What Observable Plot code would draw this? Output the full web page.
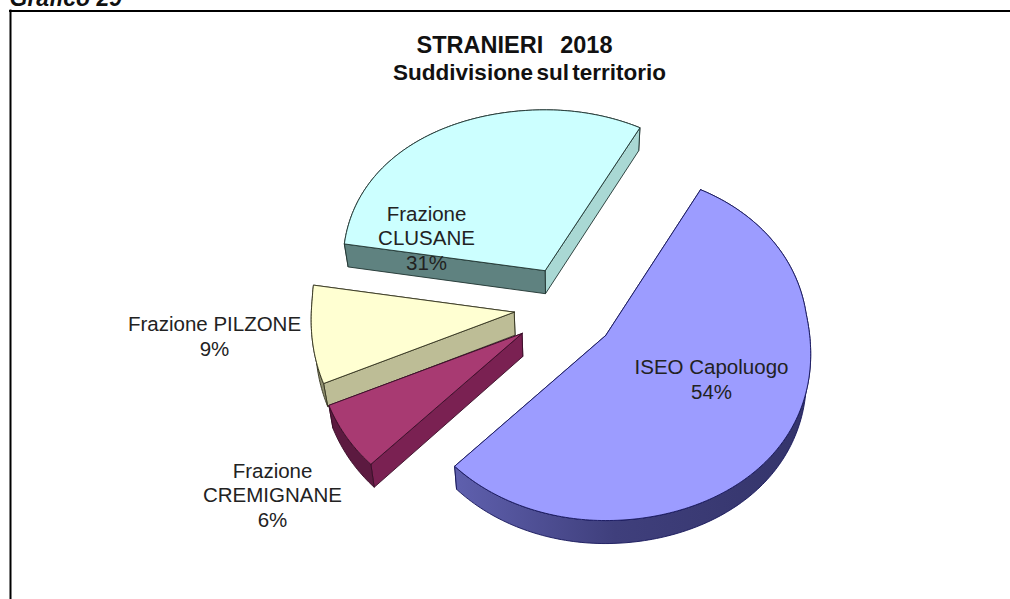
<!DOCTYPE html>
<html>
<head>
<meta charset="utf-8">
<script src="https://cdn.jsdelivr.net/npm/d3@7"></script>
<script src="https://cdn.jsdelivr.net/npm/@observablehq/plot@0.6"></script>
<style>
html,body{margin:0;padding:0;background:#fff;overflow:hidden}
svg{display:block;background:#fff}
.t1{word-spacing:2px}
.t2{word-spacing:-3px}
</style>
</head>
<body>
<div id="chart"></div>
<script>
// ---- data ----
const categories = ["ISEO Capoluogo", "Frazione CREMIGNANE", "Frazione PILZONE", "Frazione CLUSANE"];
const shares = [54, 6, 9, 31];
const labels = ["ISEO Capoluogo\n54%", "Frazione\nCREMIGNANE\n6%", "Frazione PILZONE\n9%", "Frazione\nCLUSANE\n31%"];
const titleLine1 = "STRANIERI  2018";
const titleLine2 = "Suddivisione sul territorio";
const pageNote = "Grafico 29";

// ---- styling / layout ----
const faceColors  = ["#9c9cff", "#a83a72", "#ffffd2", "#ccffff"];
const startColors = ["#5a5ba6", "#7a2152", "#bdbd96", "#5f8280"];
const endColors   = ["#5a5ba6", "#7a2152", "#8f8f70", "#a9d8d4"];
const wallColors  = ["url(#wallPurple)", "#5c1a40", "#8f8f70", "#5f8280"];
const lineColors  = ["#16165a", "#3a0f28", "#33331f", "#1f3330"];
const wallFirst = [false, false, false, true];
const nudges = [[0, 0], [-6, -3], [-5, -5], [1, 1]];
const labelAt = [[711, 378], [272, 494], [214, 335], [426, 237]];
const firstAngle = 28, depth = 23;
const W = 1010, H = 599;
const center = {x: 566, y: 309}, explodeX = 48, explodeY = 45, explodeV = 0.235;
const radiusX = 202, radiusY = 172.5, skew = 8, persX = 0.13, persY = 0.06, wallShrink = 0.983;

const rad = d => d * Math.PI / 180;
const arcs = [];
{
  let a = firstAngle;
  const total = d3.sum(shares);
  shares.forEach((s, i) => {
    const b = a + s / total * 360;
    arcs.push({i, a, b});
    a = b;
  });
}

function makeSlice({i, a, b}) {
  const mid = rad((a + b) / 2), u = Math.sin(mid), v = Math.cos(mid);
  const ax = center.x + explodeX * u + nudges[i][0];
  const ay = center.y - explodeY * v + nudges[i][1];
  const vApex = explodeV * v;
  const rim = deg => {
    const t = rad(deg), c = Math.cos(t), sn = Math.sin(t);
    const vv = c + vApex;
    const sx = vv < 0 ? 1 + persX * Math.pow(-vv, 1.3) : 1;
    const sy = 1 / (1 + persY * vv);
    const sk = sn < 0 ? -skew * sn * sn : 0;
    return {x: ax + radiusX * sn * sx, y: ay - radiusY * c * sy + sk};
  };
  const apex = {x: ax, y: ay};
  const down = p => ({x: center.x + (p.x - center.x) * wallShrink, y: p.y + depth});
  const rimPts = d3.range(a, b, 1).concat([b]).map(rim);
  const base = {stroke: lineColors[i]};
  const quad = (p, q) => [p, q, down(q), down(p), p];
  const wall = {...base, fill: wallColors[i], pts: [...rimPts, ...rimPts.slice().reverse().map(down), rimPts[0]]};
  const cuts = [
    {...base, fill: endColors[i], pts: quad(apex, rim(b))},
    {...base, fill: startColors[i], pts: quad(apex, rim(a))}
  ];
  const face = {...base, fill: faceColors[i], pts: [apex, ...rimPts, apex]};
  return wallFirst[i] ? [wall, ...cuts, face] : [...cuts, wall, face];
}

// back to front
const order = [3, 2, 1, 0];
const polys = order.flatMap(i => makeSlice(arcs[i]));

const defs = () => {
  const d = d3.create("svg:defs");
  const g = d.append("linearGradient").attr("id", "wallPurple").attr("x1", 0).attr("x2", 1).attr("y1", 0).attr("y2", 0);
  [[0, "#5f60ae"], [0.45, "#3f3f7c"], [1, "#34346a"]].forEach(([o, c]) => g.append("stop").attr("offset", o).attr("stop-color", c));
  return d.node();
};

const labelRows = labels.map((t, i) => ({t, x: labelAt[i][0], y: labelAt[i][1], name: categories[i]}));
const font = "Liberation Sans";

const chart = Plot.plot({
  width: W, height: H,
  margin: 0,
  x: {domain: [0, W], range: [0, W], axis: null},
  y: {domain: [0, H], range: [0, H], axis: null},
  marks: [
    defs,
    Plot.ruleY([10.5], {x1: 9, x2: W, stroke: "#000", strokeWidth: 2}),
    Plot.ruleX([10], {y1: 9.5, y2: H, stroke: "#000", strokeWidth: 2}),
    Plot.text([pageNote], {x: 9, y: 5, text: d => d, textAnchor: "start", lineAnchor: "bottom", fontFamily: font, fontWeight: "bold", fontStyle: "italic", fontSize: 23, fill: "#111"}),
    Plot.text([titleLine1], {x: 514, y: 45, text: d => d, className: "t1", fontFamily: font, fontWeight: "bold", fontSize: 23.5, fill: "#111"}),
    Plot.text([titleLine2], {x: 529, y: 72, text: d => d, className: "t2", fontFamily: font, fontWeight: "bold", fontSize: 22.5, fill: "#111"}),
    ...polys.map(p => Plot.line(p.pts, {x: "x", y: "y", fill: p.fill, stroke: p.stroke, strokeWidth: 0.9, strokeLinejoin: "round", curve: "linear"})),
    Plot.text(labelRows, {x: "x", y: "y", text: "t", fontFamily: font, fontSize: 20.5, lineHeight: 1.2, fill: "#222"})
  ]
});
document.getElementById("chart").appendChild(chart);
</script>
</body>
</html>
